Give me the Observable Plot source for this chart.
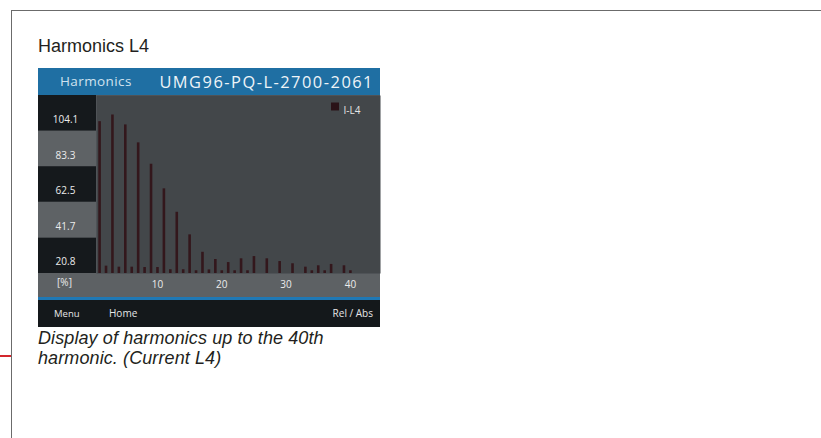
<!DOCTYPE html>
<html>
<head>
<meta charset="utf-8">
<script src="https://cdn.jsdelivr.net/npm/d3@7"></script>
<script src="https://cdn.jsdelivr.net/npm/@observablehq/plot@0.6"></script>
<style>
  html, body { margin: 0; padding: 0; background: #fff; }
  body { width: 821px; height: 438px; position: relative; overflow: hidden; font-family: "Liberation Sans", Arial, sans-serif; color: #231f20; }
  #frameTop { position: absolute; left: 11px; top: 10px; width: 810px; height: 0; border-top: 1.5px solid #6b6b6b; }
  #frameLeft { position: absolute; left: 11px; top: 10px; width: 0; height: 428px; border-left: 1.5px solid #6b6b6b; }
  #redMark { position: absolute; left: 0; top: 355px; width: 11px; height: 0; border-top: 2px solid #d3262d; }
  #title { position: absolute; left: 38px; top: 35px; font-size: 18px; line-height: 22px; white-space: nowrap; }
  #screen { position: absolute; left: 38px; top: 68px; width: 342px; }
  #header { position: relative; height: 27px; background: #1f6fa3; font-family: "Open Sans", sans-serif; }
  #header .h1 { position: absolute; left: 22px; top: 0; line-height: 27px; font-size: 13.5px; letter-spacing: 0.4px; color: #cfe2ef; }
  #header .h2 { position: absolute; right: 6px; top: 0; line-height: 27px; font-size: 16.4px; letter-spacing: 1.5px; color: #eef4f8; }
  #plotWrap svg { display: block; }
  #footer { position: relative; height: 27px; background: #14181b; border-top: 3px solid #1e78b5; font-family: "Open Sans", sans-serif; color: #e6e6e6; }
  #footer span { position: absolute; top: 0; line-height: 27px; font-size: 10px; }
  #caption { position: absolute; left: 38px; top: 328px; font-size: 18px; line-height: 20px; font-style: italic; white-space: nowrap; letter-spacing: 0.1px; }
</style>
</head>
<body>
<div id="frameTop"></div>
<div id="frameLeft"></div>
<div id="redMark"></div>
<div id="title">Harmonics L4</div>
<div id="screen">
  <div id="header"><span class="h1">Harmonics</span><span class="h2">UMG96-PQ-L-2700-2061</span></div>
  <div id="plotWrap"></div>
  <div id="footer">
    <span style="left:16px;font-size:9.5px">Menu</span>
    <span style="left:71px">Home</span>
    <span style="right:7px">Rel / Abs</span>
  </div>
</div>
<div id="caption">Display of harmonics up to the 40th<br>harmonic. (Current L4)</div>
<script>
// Harmonic orders (categories)
const orders = [1,2,3,4,5,6,7,8,9,10,11,12,13,14,15,16,17,18,19,20,
                21,22,23,24,25,26,27,28,29,30,31,32,33,34,35,36,37,38,39,40];
// Current L4 harmonic values, % (read from the display)
const currentL4 = [88.8, 4.3, 92.7, 3.7, 86.9, 3.7, 76.4, 3.5, 63.9, 3.5,
                   49.5, 2.2, 35.8, 2.2, 22.6, 1.6, 12.4, 2.1, 8.2, 1.6,
                   6.4, 1.6, 8.6, 1.6, 9.9, 0, 8.6, 0, 7.0, 0,
                   5.7, 0, 3.7, 1.6, 4.5, 1.6, 5.3, 0, 4.5, 1.6];
// Y band labels (tops of the bands)
const yBandTops = [20.8, 41.7, 62.5, 83.3, 104.1];
// X tick labels
const xTicks = [10, 20, 30, 40];
const seriesName = "I-L4";
const unitLabel = "[%]";

const bands = yBandTops.map((top, i) => ({lo: i === 0 ? 0 : yBandTops[i - 1], hi: top, label: top.toFixed(1), i}));
const data = orders.map((h, i) => ({h, v: currentL4[i]})).filter(d => d.v > 0);

const chart = Plot.plot({
  width: 342,
  height: 202,
  marginTop: 0,
  marginRight: 0,
  marginBottom: 24,
  marginLeft: 58,
  style: {background: "#5d6164", fontFamily: "'Open Sans', sans-serif", fontSize: "10px", color: "#e8e8e8", overflow: "visible"},
  x: {domain: [0.52, 44.68], axis: null},
  y: {domain: [0, 104.1], axis: null},
  color: {type: "identity"},
  marks: [
    Plot.frame({fill: "#43474a", stroke: "none"}),
    Plot.rect(bands, {y1: "lo", y2: "hi", fill: d => d.i % 2 === 0 ? "#15191c" : "#5e6265", insetLeft: -58, insetRight: 284}),
    Plot.text(bands, {y: d => (d.lo + d.hi) / 2, text: "label", frameAnchor: "left", textAnchor: "middle", dx: -31, dy: 6.5, fill: "#ececec"}),
    Plot.ruleX(data, {x: "h", y1: 0, y2: "v", stroke: "#33171c", strokeWidth: 2.6}),
    Plot.axisX({ticks: xTicks, tickSize: 0, tickPadding: 7, label: null, fill: "#ececec"}),
    Plot.text([unitLabel], {text: d => d, frameAnchor: "bottom-left", textAnchor: "middle", dx: -32, dy: 12, fill: "#ececec"}),
    Plot.dot([seriesName], {frameAnchor: "top-right", dx: -45.5, dy: 11, symbol: "square", r: 4.5, fill: "#2a1318", stroke: "none"}),
    Plot.text([seriesName], {text: d => d, frameAnchor: "top-right", dx: -37, dy: 11, textAnchor: "start", fontSize: 10, fill: "#e6e6e6"})
  ]
});
document.getElementById("plotWrap").appendChild(chart);
</script>
</body>
</html>
